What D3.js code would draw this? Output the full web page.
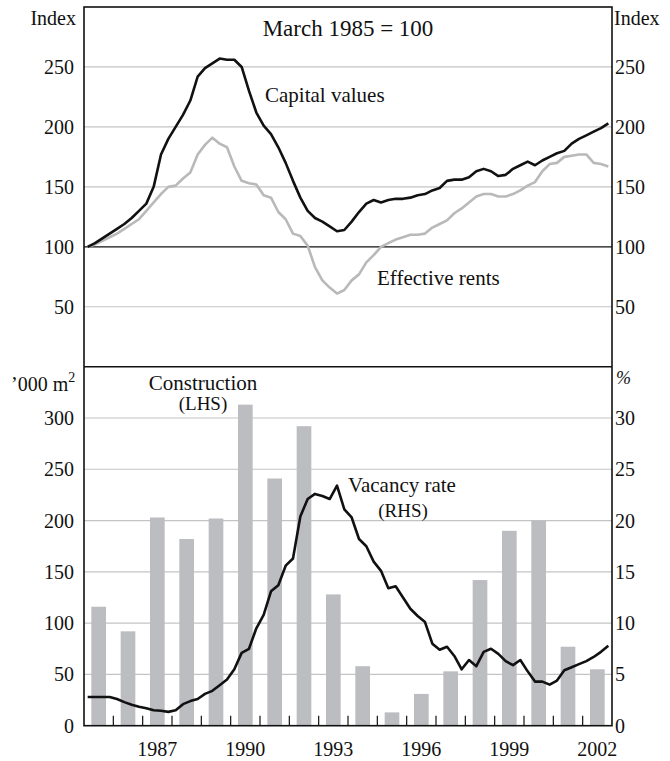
<!DOCTYPE html>
<html>
<head>
<meta charset="utf-8">
<script src="https://cdn.jsdelivr.net/npm/d3@7"></script>
<style>
  body { margin: 0; background: #fff; }
  text { font-family: "Liberation Serif", "Times New Roman", serif; fill: #111; }
</style>
</head>
<body>
<div id="chart"></div>
<script>
// years shown on the x axis, one band per year
const years = d3.range(1985, 2003);
const yearLabels = [1987, 1990, 1993, 1996, 1999, 2002];

// quarterly series, March quarter 1985 to December quarter 2002
const capitalValues = [100, 103, 107, 111, 115, 119, 124, 130, 136, 150, 177, 190,
  200, 210, 222, 242, 249, 253, 257, 256, 256, 250, 230, 212,
  201, 194, 183, 170, 155, 141, 130, 124, 121, 117, 113, 114,
  121, 129, 136, 139, 137, 139, 140, 140, 141, 143, 144, 147,
  149, 155, 156, 156, 158, 163, 165, 163, 159, 160, 165, 168,
  171, 168, 172, 175, 178, 180, 186, 190, 193, 196, 199, 203];

const effectiveRents = [100, 102, 105, 108, 111, 115, 119, 123, 130, 137, 144, 150,
  151, 157, 162, 177, 185, 191, 186, 183, 167, 155, 153, 152,
  143, 141, 129, 123, 111, 109, 101, 83, 72, 66, 61, 64,
  72, 77, 87, 93, 100, 103, 106, 108, 110, 110, 111, 116,
  119, 122, 128, 132, 137, 142, 144, 144, 142, 142, 144, 147,
  151, 154, 163, 169, 170, 175, 176, 177, 177, 170, 169, 167];

const vacancyRate = [2.8, 2.8, 2.8, 2.8, 2.6, 2.3, 2.05, 1.85, 1.7, 1.5, 1.45, 1.35,
  1.5, 2.1, 2.4, 2.6, 3.1, 3.4, 3.95, 4.5, 5.5, 7.1, 7.5, 9.5,
  10.8, 13.1, 13.7, 15.6, 16.3, 20.4, 22.1, 22.6, 22.4, 22.1, 23.4, 21.1,
  20.3, 18.2, 17.5, 16.0, 15.1, 13.4, 13.6, 12.5, 11.4, 10.7, 10.1, 8.0,
  7.4, 7.7, 6.8, 5.5, 6.4, 5.8, 7.2, 7.5, 7.0, 6.3, 5.9, 6.4,
  5.3, 4.3, 4.3, 4.0, 4.4, 5.4, 5.7, 6.0, 6.3, 6.7, 7.2, 7.8];

// annual construction, '000 m2
const construction = [116, 92, 203, 182, 202, 313, 241, 292, 128, 58,
  13, 31, 53, 142, 190, 200, 77, 55];

const indexTicks = [50, 100, 150, 200, 250];
const areaTicks = [0, 50, 100, 150, 200, 250, 300];
const pctTicks = [0, 5, 10, 15, 20, 25, 30];

(function () {
  const width = 670, height = 761;
  const left = 84, right = 612;
  const topY = 7, midY = 366.7, bottomY = 725.7;

  const svg = d3.select('#chart').append('svg')
    .attr('width', width)
    .attr('height', height);

  // shared time scale, quarter points sit mid quarter
  const x = d3.scaleLinear().domain([1985, 2003]).range([left, right]);
  const qx = (d, i) => x(1985 + (i + 0.5) / 4);

  const band = d3.scaleBand().domain(years).range([left, right])
    .paddingInner(0.5).paddingOuter(0.25);

  const yTop = d3.scaleLinear().domain([0, 300]).range([midY, topY]);
  const yArea = d3.scaleLinear().domain([0, 350]).range([bottomY, midY]);
  const yPct = d3.scaleLinear().domain([0, 35]).range([bottomY, midY]);

  // ---- top panel gridlines (100 is the base line)
  svg.append('g')
    .selectAll('line')
    .data(indexTicks)
    .join('line')
    .attr('x1', left).attr('x2', right)
    .attr('y1', d => yTop(d)).attr('y2', d => yTop(d))
    .attr('stroke', d => d === 100 ? '#111' : '#c4c4c6')
    .attr('stroke-width', 1.2);

  // ---- bottom panel gridlines
  svg.append('g')
    .selectAll('line')
    .data(areaTicks.filter(d => d > 0))
    .join('line')
    .attr('x1', left).attr('x2', right)
    .attr('y1', d => yArea(d)).attr('y2', d => yArea(d))
    .attr('stroke', '#c4c4c6')
    .attr('stroke-width', 1.2);

  // construction bars
  svg.append('g')
    .selectAll('rect')
    .data(construction)
    .join('rect')
    .attr('x', (d, i) => band(years[i]))
    .attr('width', band.bandwidth())
    .attr('y', d => yArea(d))
    .attr('height', d => bottomY - yArea(d))
    .attr('fill', '#bcbdc1');

  // year boundary ticks on the bottom axis
  svg.append('g')
    .selectAll('line')
    .data(years.slice(1))
    .join('line')
    .attr('x1', d => x(d)).attr('x2', d => x(d))
    .attr('y1', bottomY).attr('y2', bottomY - 10)
    .attr('stroke', '#111')
    .attr('stroke-width', 1.2);

  // lines
  const lineTop = d3.line().x(qx).y(d => yTop(d));
  const linePct = d3.line().x(qx).y(d => yPct(d));

  svg.append('path')
    .datum(effectiveRents)
    .attr('d', lineTop)
    .attr('fill', 'none')
    .attr('stroke', '#b9b9bb')
    .attr('stroke-width', 2.6)
    .attr('stroke-linejoin', 'round');

  svg.append('path')
    .datum(capitalValues)
    .attr('d', lineTop)
    .attr('fill', 'none')
    .attr('stroke', '#111')
    .attr('stroke-width', 2.6)
    .attr('stroke-linejoin', 'round');

  svg.append('path')
    .datum(vacancyRate)
    .attr('d', linePct)
    .attr('fill', 'none')
    .attr('stroke', '#111')
    .attr('stroke-width', 2.6)
    .attr('stroke-linejoin', 'round');

  // frame and panel divider
  svg.append('rect')
    .attr('x', left).attr('y', topY)
    .attr('width', right - left).attr('height', bottomY - topY)
    .attr('fill', 'none')
    .attr('stroke', '#111')
    .attr('stroke-width', 1.6);

  svg.append('line')
    .attr('x1', left).attr('x2', right)
    .attr('y1', midY).attr('y2', midY)
    .attr('stroke', '#111')
    .attr('stroke-width', 1.6);

  // ---- axis labels
  const fs = 20;

  svg.append('g')
    .selectAll('text')
    .data(indexTicks)
    .join('text')
    .attr('x', left - 10)
    .attr('y', d => yTop(d))
    .attr('dy', '0.35em')
    .attr('text-anchor', 'end')
    .style('font-size', fs + 'px')
    .text(d => d);

  svg.append('g')
    .selectAll('text')
    .data(indexTicks)
    .join('text')
    .attr('x', right + 3)
    .attr('y', d => yTop(d))
    .attr('dy', '0.35em')
    .style('font-size', fs + 'px')
    .text(d => d);

  svg.append('g')
    .selectAll('text')
    .data(areaTicks)
    .join('text')
    .attr('x', left - 10)
    .attr('y', d => yArea(d))
    .attr('dy', '0.35em')
    .attr('text-anchor', 'end')
    .style('font-size', fs + 'px')
    .text(d => d);

  svg.append('g')
    .selectAll('text')
    .data(pctTicks)
    .join('text')
    .attr('x', right + 3)
    .attr('y', d => yPct(d))
    .attr('dy', '0.35em')
    .style('font-size', fs + 'px')
    .text(d => d);

  svg.append('g')
    .selectAll('text')
    .data(yearLabels)
    .join('text')
    .attr('x', d => x(d + 0.5))
    .attr('y', 756)
    .attr('text-anchor', 'middle')
    .style('font-size', fs + 'px')
    .text(d => d);

  // units
  svg.append('text').attr('x', left - 8).attr('y', 25)
    .attr('text-anchor', 'end').style('font-size', fs + 'px').text('Index');
  svg.append('text').attr('x', right + 2).attr('y', 25)
    .style('font-size', fs + 'px').text('Index');

  const m2 = svg.append('text').attr('x', 11).attr('y', 391)
    .style('font-size', fs + 'px');
  m2.append('tspan').text('\u2019000 m');
  m2.append('tspan').attr('dy', -9).style('font-size', '14px').text('2');

  svg.append('text').attr('x', right + 4).attr('y', 384)
    .style('font-size', '18px').style('font-style', 'italic').text('%');

  // series annotations
  const fl = 21;
  svg.append('text').attr('x', 348).attr('y', 36).attr('text-anchor', 'middle')
    .style('font-size', '23px').text('March 1985 = 100');
  svg.append('text').attr('x', 265).attr('y', 102)
    .style('font-size', fl + 'px').text('Capital values');
  svg.append('text').attr('x', 377).attr('y', 285)
    .style('font-size', fl + 'px').text('Effective rents');
  svg.append('text').attr('x', 203).attr('y', 390).attr('text-anchor', 'middle')
    .style('font-size', fl + 'px').text('Construction');
  svg.append('text').attr('x', 203).attr('y', 410).attr('text-anchor', 'middle')
    .style('font-size', '19px').text('(LHS)');
  svg.append('text').attr('x', 402).attr('y', 492).attr('text-anchor', 'middle')
    .style('font-size', fl + 'px').text('Vacancy rate');
  svg.append('text').attr('x', 403).attr('y', 517).attr('text-anchor', 'middle')
    .style('font-size', '19px').text('(RHS)');

})();
</script>
</body>
</html>
